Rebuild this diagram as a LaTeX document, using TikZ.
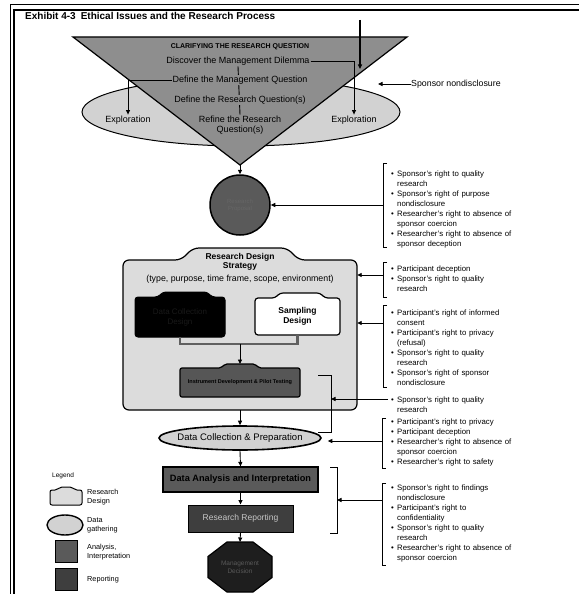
\documentclass[tikz,border=0pt]{standalone}
\usepackage{fontspec}
\setmainfont{Liberation Sans}
\usetikzlibrary{shapes.geometric,arrows.meta,calc}
\pgfdeclarelayer{back}
\pgfdeclarelayer{mid}
\pgfsetlayers{back,mid,main}
\definecolor{trigray}{HTML}{8E8E8E}
\definecolor{ellgray}{HTML}{D2D2D2}
\definecolor{circgray}{HTML}{5A5A5A}
\definecolor{rdgray}{HTML}{DCDCDC}
\definecolor{instgray}{HTML}{565656}
\definecolor{dagray}{HTML}{5A5A5A}
\definecolor{rrgray}{HTML}{3E3E3E}
\definecolor{octgray}{HTML}{1E1E1E}
\newcommand{\bitem}[1]{\par\noindent\makebox[6pt][l]{\textbullet}\parbox[t]{116pt}{\raggedright\hyphenpenalty=10000 \exhyphenpenalty=10000 \strut#1\strut}}
\begin{document}
\begin{tikzpicture}[x=1pt,y=-1pt,
  arr/.style={-{Triangle[length=4.5pt,width=4pt]},line width=0.9pt},
  conn/.style={line width=0.9pt},
  brk/.style={line width=1pt},
  tri/.style={font=\fontsize{9}{10}\selectfont,inner sep=1pt,align=center},
  trif/.style={tri,fill=trigray},
  bul/.style={anchor=north west,align=left,text width=124pt,inner sep=0pt,font=\fontsize{7.8}{10}\selectfont,
    execute at begin node={\lineskip=0pt\lineskiplimit=0pt}},
  leg/.style={anchor=west,align=left,inner sep=0pt,font=\fontsize{7.3}{9.5}\selectfont},
]
\useasboundingbox (0,0) rectangle (579,594);
\begin{pgfonlayer}{back}
  \fill[white] (0,0) rectangle (579,594);
  \node[ellipse, draw, line width=1pt, fill=ellgray, minimum width=318pt, minimum height=68pt, inner sep=0pt] (expl) at (241,112) {};
  \draw[line width=1.2pt, fill=trigray] (73,37) -- (407,37) -- (240,165) -- cycle;
\end{pgfonlayer}

% frame
\draw[line width=0.8pt] (10,594) -- (10,4) -- (579,4);
\draw[line width=1.4pt] (14,594) -- (14,10) -- (579,10);

% title
\node[anchor=west, inner sep=0pt, font=\bfseries\fontsize{10}{12}\selectfont] (title) at (25,16) {Exhibit 4-3\enspace Ethical Issues and the Research Process};

% triangle texts
\node[font=\bfseries\fontsize{7}{8}\selectfont, inner sep=1pt] (hdr) at (240,47) {CLARIFYING THE RESEARCH QUESTION};
\node[tri] (disc) at (238,61) {Discover the Management Dilemma};
\node[trif] (mq) at (240,80) {Define the Management Question};
\node[trif] (rq) at (240,100) {Define the Research Question(s)};
\node[tri] (ref) at (240,125) {Refine the Research\\Question(s)};
\node[tri] (exL) at (128,120) {Exploration};
\node[tri] (exR) at (354,120) {Exploration};
\coordinate (apex) at (240,165);
\begin{pgfonlayer}{mid}
  \draw[conn] (disc.south) -- (ref.north);
\end{pgfonlayer}
\draw[arr] (disc.east) -| (exR.north);
\draw[arr] (mq.west) -| (exL.north);

% top arrow and side label
\coordinate (vt) at (360,20);
\coordinate (vb) at (360,69);
\draw[arr, line width=1.2pt] (vt) -- (vb);
\node[anchor=west, inner sep=0pt, font=\fontsize{8.8}{10}\selectfont] (rp) at (411,84) {Sponsor nondisclosure};
\coordinate (rpe) at (378,84);
\draw[arr] (rp.west) -- (rpe);

% proposal circle
\node[circle, draw, line width=1.5pt, fill=circgray, minimum size=60pt, inner sep=0pt, align=center, text=gray!80!black, font=\fontsize{6}{7}\selectfont] (prop) at (240,205) {Research\\Proposal};
\draw[arr] (apex) -- (prop.north);

% research design box
\draw[line width=1.2pt, fill=rdgray, rounded corners=6pt] (123,410) -- (123,260) -- (181,260) -- (193,248) -- (287,248) -- (299,260) -- (357,260) -- (357,410) -- cycle;
\node[inner sep=0pt, minimum width=234pt, minimum height=150pt] (rdbox) at (240,335) {};
\node[font=\bfseries\fontsize{8.5}{9}\selectfont, align=center, inner sep=0pt] (rdt) at (240,262) {Research Design\\Strategy};
\node[font=\fontsize{8.8}{10}\selectfont, inner sep=0pt] (rds) at (240,279) {(type, purpose, time frame, scope, environment)};

% data collection design (black)
\draw[line width=1pt, fill=black, rounded corners=3pt] (135,337) -- (135,297) -- (158,297) -- (163,292) -- (207,292) -- (212,297) -- (225,297) -- (225,337) -- cycle;
\node[inner sep=0pt, minimum width=90pt, minimum height=40pt, align=center, text=black!80!gray, font=\fontsize{8}{10}\selectfont] (dcd) at (180,317) {Data Collection\\Design};

% sampling design (white)
\draw[line width=1.2pt, fill=white, rounded corners=3pt] (255,335) -- (255,298) -- (275,298) -- (280,293) -- (320,293) -- (325,298) -- (340,298) -- (340,335) -- cycle;
\node[inner sep=0pt, minimum width=85pt, minimum height=37pt, align=center, font=\bfseries\fontsize{8.5}{10}\selectfont] (sd) at (297.5,316.5) {Sampling\\Design};

\draw[line width=2.2pt, gray!75!black] (dcd.south) -- ++(0,7) -| (sd.south);
\coordinate (join) at (240,344);

% instrument box
\draw[line width=1.2pt, fill=instgray, rounded corners=2pt] (180,397) -- (180,368) -- (221,368) -- (225,364) -- (255,364) -- (259,368) -- (300,368) -- (300,397) -- cycle;
\node[inner sep=0pt, minimum width=120pt, minimum height=29pt, font=\bfseries\fontsize{5.5}{7}\selectfont] (inst) at (240,382.5) {Instrument Development \& Pilot Testing};
\coordinate (instTab) at (240,364);
\draw[arr] (join) -- (instTab);

% data collection ellipse
\node[ellipse, draw, line width=1.6pt, fill=ellgray, minimum width=162pt, minimum height=24pt, inner sep=0pt] (dce) at (240,438) {};
\node[inner sep=0pt, font=\fontsize{9.5}{10}\selectfont] (dcet) at (240,438) {Data Collection \& Preparation};
\draw[arr] (rdbox.south) -- (dce.north);

% data analysis box
\node[draw, line width=1.2pt, fill=dagray, minimum width=155pt, minimum height=25pt, inner sep=0pt, font=\bfseries\fontsize{9.2}{10}\selectfont] (da) at (240.5,479.5) {Data Analysis and Interpretation};
\draw[arr] (dce.south) -- (da.north);

% research reporting box
\node[draw, line width=1pt, fill=rrgray, minimum width=105pt, minimum height=27pt, inner sep=0pt, text=gray!45, font=\fontsize{8.5}{9}\selectfont] (rr) at (240.5,518.5) {Research Reporting};
\draw[arr] (da.south) -- (rr.north);

% management decision octagon
\draw[line width=1.2pt, fill=octgray] (272,556.5) -- (272,577.5) -- (253,592) -- (227,592) -- (208,577.5) -- (208,556.5) -- (227,542) -- (253,542) -- cycle;
\node[inner sep=0pt, align=center, text=gray!70!black, font=\fontsize{6.5}{8}\selectfont] (md) at (240,567) {Management\\Decision};
\coordinate (octTop) at (240,542);
\draw[arr] (rr.south) -- (octTop);

% bracket linking instrument and data collection
\coordinate (k1) at (318,375);
\coordinate (k2) at (318,432);
\draw[conn] (k1) -- (331,375) -- (331,432) -- (k2);
% bracket for analysis and reporting
\coordinate (rb) at (337,500);
\draw[brk] (330,467) -- (337,467) -- (337,533) -- (330,533);

% right-hand ethical issues
\node[bul] (g1) at (391,166) {\bitem{Sponsor's right to quality research}\bitem{Sponsor's right of purpose nondisclosure}\bitem{Researcher's right to absence of sponsor coercion}\bitem{Researcher's right to absence of sponsor deception}};
\draw[brk] (387,163) -- (383,163) -- (383,247) -- (387,247);
\coordinate (c1) at (383,205);
\draw[arr] (c1) -- (prop.east);

\node[bul] (g2) at (391,261) {\bitem{Participant deception}\bitem{Sponsor's right to quality research}};
\draw[brk] (387,262) -- (383,262) -- (383,297) -- (387,297);
\coordinate (c2) at (383,275);
\draw[arr] (c2) -- (c2 -| rdbox.east);

\node[bul] (g3) at (391,305) {\bitem{Participant's right of informed consent}\bitem{Participant's right to privacy (refusal)}\bitem{Sponsor's right to quality research}\bitem{Sponsor's right of sponsor nondisclosure}};
\draw[brk] (387,305) -- (383,305) -- (383,387) -- (387,387);
\coordinate (c3) at (383,323);
\draw[arr] (c3) -- (c3 -| rdbox.east);

\node[bul] (g4) at (391,392) {\bitem{Sponsor's right to quality research}};
\coordinate (c4) at (388,399);
\coordinate (k3) at (331,399);
\draw[arr] (c4) -- (k3);

\node[bul] (g5) at (391,414) {\bitem{Participant's right to privacy}\bitem{Participant deception}\bitem{Researcher's right to absence of sponsor coercion}\bitem{Researcher's right to safety}};
\draw[brk] (386,418) -- (382,418) -- (382,468) -- (386,468);
\coordinate (c5) at (382,441);
\draw[arr, shorten >=6pt] (c5) -- (c5 -| dce.east);

\node[bul] (g6) at (391,480) {\bitem{Sponsor's right to findings nondisclosure}\bitem{Participant's right to confidentiality}\bitem{Sponsor's right to quality research}\bitem{Researcher's right to absence of sponsor coercion}};
\draw[brk] (386,483) -- (382,483) -- (382,565) -- (386,565);
\coordinate (c6) at (382,500);
\draw[arr] (c6) -- (rb);

% legend
\node[leg, font=\fontsize{6.5}{8}\selectfont] (legt) at (52,476) {Legend};
\draw[line width=1pt, fill=rdgray, rounded corners=2pt] (50,505) -- (50,490) -- (57,490) -- (60,487) -- (72,487) -- (75,490) -- (82,490) -- (82,505) -- cycle;
\node[leg] (l1) at (87,497) {Research\\Design};
\node[ellipse, draw, line width=1.4pt, fill=ellgray, minimum width=36pt, minimum height=20pt, inner sep=0pt] (l2s) at (65,525) {};
\node[leg] (l2) at (87,525) {Data\\gathering};
\node[draw, line width=1pt, fill=dagray, minimum width=22pt, minimum height=22pt, inner sep=0pt] (l3s) at (66,551) {};
\node[leg] (l3) at (87,552) {Analysis,\\Interpretation};
\node[draw, line width=1pt, fill=rrgray, minimum width=22pt, minimum height=22pt, inner sep=0pt] (l4s) at (66,579) {};
\node[leg] (l4) at (87,580) {Reporting};
\end{tikzpicture}
\end{document}
